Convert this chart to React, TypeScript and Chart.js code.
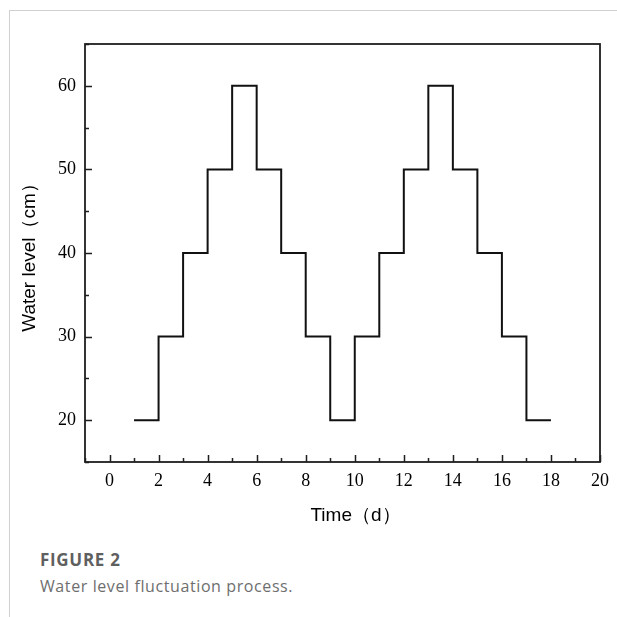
import React, { useEffect, useRef } from "react";
import { Chart, registerables } from "chart.js";

Chart.register(...registerables);

// ---- data ----
const days: number[] = [1, 2, 3, 4, 5, 6, 7, 8, 9, 10, 11, 12, 13, 14, 15, 16, 17, 18];
const waterLevel: number[] = [20, 30, 40, 50, 60, 50, 40, 30, 20, 30, 40, 50, 60, 50, 40, 30, 20, 20];
const xTickLabels: number[] = [0, 2, 4, 6, 8, 10, 12, 14, 16, 18, 20];
const yTickLabels: number[] = [20, 30, 40, 50, 60];
const xTitle = "Time（d）";
const yTitle = "Water level（cm）";
const figureLabel = "FIGURE 2";
const figureCaption = "Water level fluctuation process.";

const frameAndTicks = {
  id: "frameAndTicks",
  afterDraw(chart: any) {
    const { ctx, chartArea } = chart;
    const xs = chart.scales.x;
    const ys = chart.scales.y;
    ctx.save();
    ctx.strokeStyle = "#1e1e1e";
    ctx.lineWidth = 1.8;
    ctx.strokeRect(chartArea.left, chartArea.top, chartArea.right - chartArea.left, chartArea.bottom - chartArea.top);
    ctx.lineWidth = 1.5;
    ctx.beginPath();
    for (let v = Math.ceil(xs.min); v <= xs.max; v++) {
      const px = Math.round(xs.getPixelForValue(v)) + 0.5;
      const len = v % 2 === 0 ? 7 : 4;
      ctx.moveTo(px, chartArea.bottom);
      ctx.lineTo(px, chartArea.bottom - len);
    }
    for (let v = Math.ceil(ys.min / 5) * 5; v <= ys.max; v += 5) {
      const py = Math.round(ys.getPixelForValue(v)) + 0.5;
      const len = v % 10 === 0 ? 7 : 4;
      ctx.moveTo(chartArea.left, py);
      ctx.lineTo(chartArea.left + len, py);
    }
    ctx.stroke();
    // x-axis title, centred slightly right of the plot centre as in the reference
    ctx.fillStyle = "#000";
    ctx.font = "19px 'Liberation Sans'";
    ctx.textAlign = "center";
    ctx.textBaseline = "middle";
    ctx.fillText(xTitle, (chartArea.left + chartArea.right) / 2 + 13, xs.bottom - 24);
    ctx.restore();
  },
};

function WaterChart() {
  const ref = useRef<HTMLCanvasElement | null>(null);
  useEffect(() => {
    if (!ref.current) return;
    const chart = new Chart(ref.current, {
      type: "line",
      data: {
        datasets: [
          {
            data: days.map((d, i) => ({ x: d, y: waterLevel[i] })),
            stepped: "before",
            borderColor: "#111",
            borderWidth: 2,
            pointRadius: 0,
            fill: false,
          },
        ],
      },
      options: {
        animation: false,
        responsive: false,
        maintainAspectRatio: false,
        layout: { padding: { top: 44, right: 15, left: 0, bottom: 0 } },
        plugins: { legend: { display: false }, tooltip: { enabled: false } },
        scales: {
          x: {
            type: "linear",
            min: -1,
            max: 20,
            afterFit: (s: any) => {
              s.height = 78;
            },
            border: { display: false },
            grid: { display: false, drawTicks: false },
            ticks: {
              stepSize: 1,
              autoSkip: false,
              maxRotation: 0,
              padding: 8,
              color: "#000",
              font: { family: "Liberation Serif", size: 18 },
              callback: (v: any) => (xTickLabels.includes(Number(v)) ? String(v) : ""),
            },
            title: { display: false, text: xTitle },
          },
          y: {
            type: "linear",
            min: 15,
            max: 65,
            afterFit: (s: any) => {
              s.width = 85;
            },
            border: { display: false },
            grid: { display: false, drawTicks: false },
            ticks: {
              stepSize: 5,
              autoSkip: false,
              padding: 9,
              color: "#000",
              font: { family: "Liberation Serif", size: 18 },
              callback: (v: any) => (yTickLabels.includes(Number(v)) ? String(v) : ""),
            },
            title: {
              display: true,
              text: yTitle,
              color: "#000",
              font: { family: "Liberation Sans", size: 19 },
              padding: { top: 18, bottom: 0 },
            },
          },
        },
      },
      plugins: [frameAndTicks],
    });
    return () => chart.destroy();
  }, []);
  return <canvas ref={ref} width={617} height={540} style={{ position: "absolute", left: 0, top: 0, width: 617, height: 540 }} />;
}

export default function App() {
  return (
    <div style={{ position: "fixed", left: 0, top: 0, width: 617, height: 617, background: "#fff", overflow: "hidden" }}>
      <div style={{ position: "absolute", left: 9, top: 10, width: 608, height: 1, background: "#d0d0d0" }} />
      <div style={{ position: "absolute", left: 9, top: 10, width: 1, height: 607, background: "#d0d0d0" }} />
      <WaterChart />
      <div
        style={{
          position: "absolute",
          left: 40,
          top: 548,
          fontFamily: "'Open Sans', sans-serif",
          fontWeight: 700,
          fontSize: 17,
          letterSpacing: 0.7,
          color: "#5f5f5f",
          lineHeight: "24px",
          whiteSpace: "nowrap",
        }}
      >
        {figureLabel}
      </div>
      <div
        style={{
          position: "absolute",
          left: 40,
          top: 574,
          fontFamily: "'Open Sans', sans-serif",
          fontSize: 16,
          letterSpacing: 0.6,
          color: "#6e6e6e",
          lineHeight: "24px",
          whiteSpace: "nowrap",
        }}
      >
        {figureCaption}
      </div>
    </div>
  );
}
